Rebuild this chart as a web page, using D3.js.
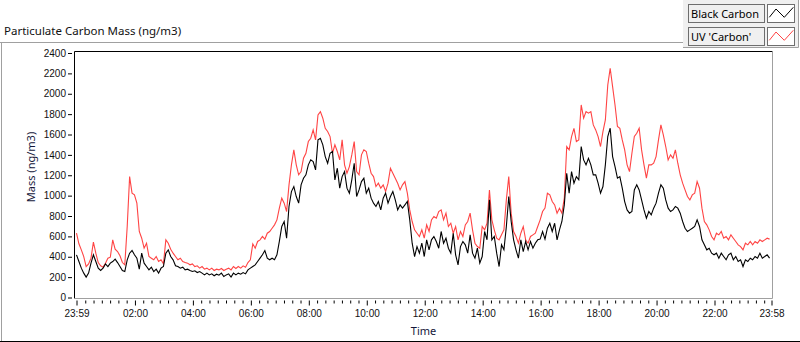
<!DOCTYPE html>
<html lang="en">
<head>
<meta charset="UTF-8">
<title>Particulate Carbon Mass (ng/m3)</title>
<script src="https://d3js.org/d3.v7.min.js"></script>
<style>
    body {
        margin: 0;
        background: #fff;
    }
    svg {
        display: block;
        font-family: "Noto Sans", "DejaVu Sans", sans-serif;
    }
    .tick text {
        font-size: 10px;
        fill: #111;
    }
    .axis-name {
        font-size: 11px;
        fill: #14163a;
    }
</style>
</head>
<body>
<svg id="chart" width="800" height="342"></svg>
<script>
// readings every 5 minutes, starting 23:59 and running to 23:58 the next day
const stepMinutes = 5;
const yTicks = [0, 200, 400, 600, 800, 1000, 1200, 1400, 1600, 1800, 2000, 2200, 2400];
const xTickLabels = ["23:59", "02:00", "04:00", "06:00", "08:00", "10:00", "12:00",
                     "14:00", "16:00", "18:00", "20:00", "22:00", "23:58"];
const seriesNames = ["Black Carbon", "UV 'Carbon'"];

// ng/m3, one row per hour
const blackCarbon = [
    419,353,288,239,200,239,337,419,353,288,265,288,
    330,304,337,353,376,343,304,265,255,370,435,461,
    419,386,278,435,337,304,271,298,255,278,239,288,
    304,435,468,402,370,311,304,288,298,271,278,265,
    255,262,245,255,239,222,239,222,232,213,229,219,
    239,206,222,232,200,239,222,239,229,245,232,271,
    288,304,320,353,386,419,461,386,370,386,370,419,
    550,697,746,582,893,1040,1089,991,926,1106,1171,1204,
    1302,1351,1335,1253,1547,1563,1498,1383,1318,1416,1433,1155,
    1269,1073,1187,1236,1073,1024,1155,1318,991,1056,1138,1171,
    1024,1073,975,926,893,942,860,975,1024,926,991,1040,
    958,860,909,877,909,942,762,533,402,500,435,533,
    402,566,468,566,599,550,484,648,533,582,484,435,
    631,419,320,500,550,517,435,615,435,386,484,337,
    402,648,566,958,566,599,435,304,517,468,697,991,
    746,566,468,386,566,451,550,468,550,484,533,566,
    573,648,573,680,729,648,729,566,664,746,909,1220,
    1024,1236,1122,1187,1155,1482,1351,1302,1367,1302,1204,1204,
    1122,1024,1089,1302,1580,1662,1383,1285,1171,1187,1073,942,
    860,828,844,1056,1106,1056,958,860,778,844,811,877,
    926,1024,1106,1073,958,877,844,860,893,877,828,746,
    680,648,664,680,697,762,697,566,517,468,484,435,
    419,435,386,435,402,370,419,435,370,402,353,370,
    304,370,353,386,370,402,386,435,386,402,419,386
];

const uvCarbon = [
    631,527,468,402,304,330,386,543,435,343,311,298,
    337,386,396,566,474,451,409,343,321,697,1187,1024,
    1007,926,648,582,484,533,402,386,370,402,353,370,
    330,566,533,474,435,402,370,386,353,343,337,321,
    330,304,311,288,304,278,288,271,288,265,278,271,
    285,265,278,288,271,304,285,304,288,311,298,343,
    370,527,484,550,566,599,573,631,648,680,713,762,
    877,975,926,844,1106,1302,1449,1302,1204,1236,1367,1416,
    1531,1563,1645,1547,1792,1825,1760,1661,1629,1580,1416,1498,
    1433,1351,1547,1302,1220,1285,1400,1531,1236,1204,1400,1449,
    1433,1318,1220,1187,1089,1122,1073,1106,1040,1122,1269,1220,
    1171,1122,1056,1106,1138,1024,860,746,664,631,599,664,
    582,713,648,762,795,778,844,860,762,828,697,729,
    631,697,566,648,599,713,746,828,664,533,500,484,
    697,664,729,1056,762,664,582,566,615,664,958,1187,
    828,648,599,533,631,697,566,533,599,615,631,697,
    762,844,877,1024,1007,942,909,828,877,828,975,1482,
    1449,1580,1661,1531,1547,1890,1760,1825,1809,1825,1694,1645,
    1580,1482,1629,1743,2086,2250,2070,1890,1678,1661,1547,1449,
    1302,1236,1416,1580,1612,1661,1449,1302,1171,1302,1302,1318,
    1383,1547,1694,1596,1482,1351,1400,1367,1449,1318,1204,1122,
    1056,991,958,1007,1024,1138,1073,877,746,713,664,599,
    566,631,615,648,582,599,566,615,582,550,517,500,
    468,533,517,550,517,550,533,566,550,566,582,573
];

const svg = d3.select("#chart");
const width = 800, height = 342;
const plot = { left: 74.5, top: 51.5, right: 772.5, bottom: 298.5 };

const minute = 60000;
const startDate = new Date(2024, 0, 1, 23, 59);
const endDate = new Date(2024, 0, 2, 23, 58);

function labelToDate(label, i) {
    if (i === 0) return startDate;
    if (i === xTickLabels.length - 1) return endDate;
    const [h, m] = label.split(":").map(Number);
    return new Date(2024, 0, 2, h, m);
}

const majorTicks = xTickLabels.map(labelToDate);
// LabVIEW puts 6 minor ticks between each pair of labelled ticks
const minorStep = 120 / 7 * minute;
const minorTicks = d3.range(-7, 84)
    .filter(j => j % 7 !== 0)
    .map(j => new Date(+majorTicks[1] + j * minorStep))
    .filter(d => d > startDate && d < endDate);

const x = d3.scaleTime()
    .domain([startDate, endDate])
    .range([76.5, 771.5]);

const y = d3.scaleLinear()
    .domain([0, 2400])
    .range([297.5, 53]);

const toPoints = values => values.map((v, i) => ({
    date: new Date(+startDate + i * stepMinutes * minute),
    value: v
}));

const series = [
    { name: seriesNames[1], color: "#ff4444", values: toPoints(uvCarbon) },
    { name: seriesNames[0], color: "#000000", values: toPoints(blackCarbon) }
];

// outer panel border
svg.append("line")
    .attr("x1", 0).attr("x2", 683)
    .attr("y1", 42.5).attr("y2", 42.5)
    .attr("stroke", "#a0a0a0");
svg.append("line")
    .attr("x1", 1.5).attr("x2", 1.5)
    .attr("y1", 42.5).attr("y2", height)
    .attr("stroke", "#a0a0a0");
svg.append("line")
    .attr("x1", 0).attr("x2", width)
    .attr("y1", 341.5).attr("y2", 341.5)
    .attr("stroke", "#000");

svg.append("text")
    .attr("x", 4)
    .attr("y", 35)
    .attr("font-size", "11.5px")
    .attr("fill", "#111")
    .text("Particulate Carbon Mass (ng/m3)");

// plot frame
svg.append("rect")
    .attr("x", plot.left).attr("y", plot.top)
    .attr("width", plot.right - plot.left)
    .attr("height", plot.bottom - plot.top)
    .attr("fill", "#fff");

svg.append("defs").append("clipPath")
    .attr("id", "plot-clip")
    .append("rect")
    .attr("x", plot.left + 0.5).attr("y", plot.top + 0.5)
    .attr("width", plot.right - plot.left - 1)
    .attr("height", plot.bottom - plot.top - 1);

const line = d3.line()
    .x(d => x(d.date))
    .y(d => y(d.value));

svg.append("g")
    .attr("clip-path", "url(#plot-clip)")
    .selectAll("path")
    .data(series)
    .join("path")
    .attr("fill", "none")
    .attr("stroke", d => d.color)
    .attr("stroke-width", 1.1)
    .attr("stroke-linejoin", "miter")
    .attr("d", d => line(d.values));

svg.append("path")
    .attr("fill", "none")
    .attr("stroke", "#000")
    .attr("d", `M${plot.left},${plot.bottom}V${plot.top}H${plot.right}`);
svg.append("path")
    .attr("fill", "none")
    .attr("stroke", "#a0a0a0")
    .attr("d", `M${plot.right},${plot.top}V${plot.bottom}H${plot.left}`);

// y axis
svg.append("g")
    .attr("transform", "translate(72,0)")
    .call(d3.axisLeft(y).tickValues(yTicks).tickSize(4).tickPadding(2).tickFormat(d3.format("d")))
    .call(g => g.select(".domain").remove())
    .call(g => g.selectAll(".tick line").attr("stroke", "#000"))
    .call(g => g.selectAll(".tick text").attr("font-family", null).attr("font-size", null).attr("fill", null));

// x axis: minor ticks first, then labelled ticks
svg.append("g")
    .attr("transform", "translate(0,300.5)")
    .call(d3.axisBottom(x).tickValues(minorTicks).tickSize(3).tickFormat(""))
    .call(g => g.select(".domain").remove());

svg.append("g")
    .attr("transform", "translate(0,300.5)")
    .call(d3.axisBottom(x)
        .tickValues(majorTicks)
        .tickSize(5)
        .tickPadding(4)
        .tickFormat((d, i) => xTickLabels[i]))
    .call(g => g.select(".domain").remove())
    .call(g => g.selectAll(".tick text").attr("font-family", null).attr("font-size", null).attr("fill", null));

svg.append("text")
    .attr("class", "axis-name")
    .attr("x", (plot.left + plot.right) / 2)
    .attr("y", 335)
    .attr("text-anchor", "middle")
    .text("Time");

svg.append("text")
    .attr("class", "axis-name")
    .attr("transform", "translate(35,167)rotate(-90)")
    .attr("text-anchor", "middle")
    .text("Mass (ng/m3)");

// legend
const legend = svg.append("g");
legend.append("rect")
    .attr("x", 683).attr("y", 0)
    .attr("width", 116).attr("height", 47.5)
    .attr("fill", "#f0f0f0");
legend.append("path")
    .attr("fill", "none")
    .attr("stroke", "#a0a0a0")
    .attr("d", "M683,47.5H798.5V0");

const symbolShape = [[1.8, 12.8], [8.5, 4.5], [16.8, 12.8], [25.8, 2.8]];
const symbolLine = d3.line();

const items = legend.selectAll("g.item")
    .data([series[1], series[0]])
    .join("g")
    .attr("class", "item")
    .attr("transform", (d, i) => `translate(0,${4.5 + i * 23})`);

items.append("rect")
    .attr("x", 688.5).attr("y", 0)
    .attr("width", 76).attr("height", 18)
    .attr("fill", "#f0f0f0")
    .attr("stroke", "#6e6e6e");

items.append("text")
    .attr("x", 691)
    .attr("y", 13.5)
    .attr("font-size", "11px")
    .attr("fill", "#000")
    .text(d => d.name);

items.append("rect")
    .attr("x", 767.5).attr("y", 0)
    .attr("width", 27).attr("height", 18)
    .attr("fill", "#fff")
    .attr("stroke", "#6e6e6e");

items.append("path")
    .attr("transform", "translate(767.5,0)")
    .attr("fill", "none")
    .attr("stroke", d => d.color)
    .attr("d", symbolLine(symbolShape));
</script>
</body>
</html>
